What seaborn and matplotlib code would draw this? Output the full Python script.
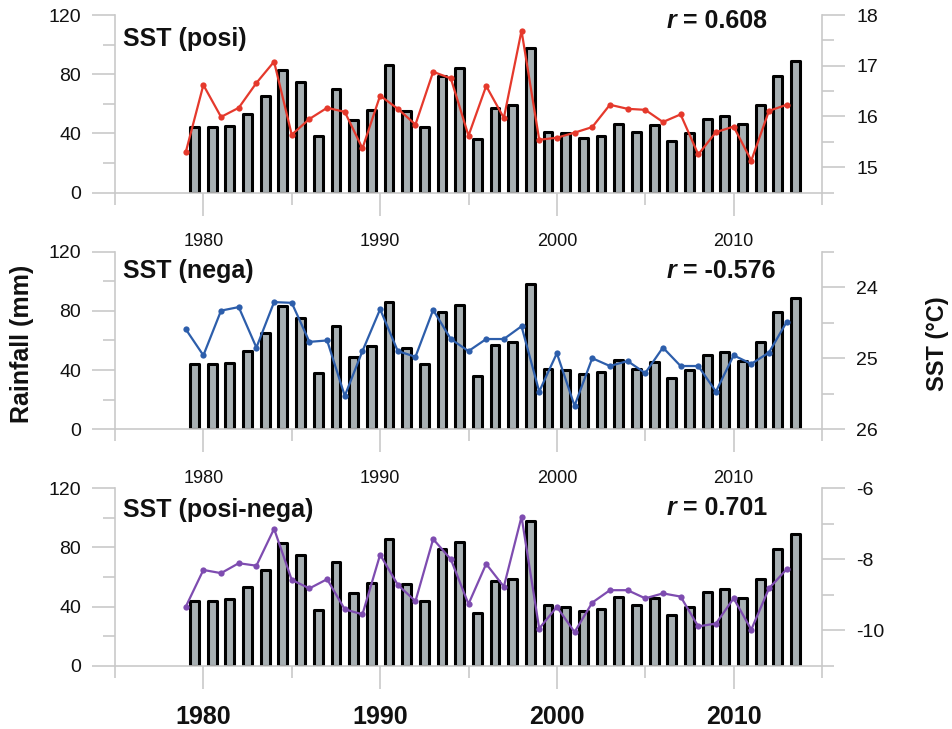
import matplotlib
matplotlib.use("Agg")
import matplotlib.pyplot as plt
from matplotlib.ticker import FixedLocator, NullFormatter
import seaborn as sns
import pandas as pd
import numpy as np

# ---------------- data ----------------
years = list(range(1979, 2014))
rainfall = [44, 44, 45, 53, 65, 83, 75, 38, 70, 49, 56, 86, 55, 44, 79, 84, 36, 57, 59, 98,
            41, 40, 37, 38.5, 46.5, 41, 45.5, 34.5, 40, 50, 52, 46, 59, 79, 89]
sst_posi = [15.29, 16.62, 15.99, 16.17, 16.66, 17.08, 15.64, 15.95, 16.17, 16.09, 15.37, 16.41,
            16.15, 15.84, 16.88, 16.75, 15.62, 16.60, 15.97, 17.69, 15.54, 15.58, 15.68, 15.79,
            16.23, 16.15, 16.13, 15.89, 16.04, 15.25, 15.69, 15.80, 15.13, 16.11, 16.23]
sst_nega = [24.59, 24.96, 24.33, 24.28, 24.85, 24.21, 24.22, 24.77, 24.75, 25.53, 24.90, 24.31,
            24.90, 24.98, 24.32, 24.73, 24.90, 24.73, 24.73, 24.55, 25.47, 24.93, 25.67, 25.00,
            25.11, 25.04, 25.21, 24.85, 25.11, 25.11, 25.47, 24.96, 25.08, 24.92, 24.49]
sst_diff = [-9.34, -8.30, -8.39, -8.11, -8.18, -7.14, -8.58, -8.82, -8.56, -9.41, -9.55, -7.87,
            -8.72, -9.18, -7.43, -8.00, -9.26, -8.13, -8.77, -6.80, -9.95, -9.34, -10.05, -9.22,
            -8.87, -8.87, -9.10, -8.96, -9.05, -9.89, -9.81, -9.10, -9.98, -8.82, -8.28]

titles = ["SST (posi)", "SST (nega)", "SST (posi-nega)"]
r_values = ["= 0.608", "= -0.576", "= 0.701"]
right_major = [[15, 16, 17, 18], [24, 25, 26], [-6, -8, -10]]
right_minor = [[14.5, 15.5, 16.5, 17.5], [23.5, 24.5, 25.5], [-7, -9, -11]]
right_lims = [(14.5, 18.0), (26.0, 23.5), (-11.0, -6.0)]
left_major = [0, 40, 80, 120]
left_minor = [20, 60, 100]
x_major = [1980, 1990, 2000, 2010]
x_minor = [1975, 1985, 1995, 2005, 2015]
line_colors = ["#e5392c", "#2d5eab", "#7e4cb0"]
sst_series = [sst_posi, sst_nega, sst_diff]

# ---------------- style ----------------
sns.set_theme(style="white")
plt.rcParams["font.family"] = ["Liberation Sans", "DejaVu Sans"]
GRAY = "#c9c9c9"

fig = plt.figure(figsize=(9.52, 7.29), dpi=100)
W, H = 952, 729
left_px, right_px = 115, 822
panel_tops = [15, 251.7, 488.3]
panel_h = 177.5

df = pd.DataFrame({"year": years, "rain": rainfall})
df["xbar"] = df["year"] + 0.5

for i in range(3):
    top = panel_tops[i]
    ax = fig.add_axes([left_px / W, 1 - (top + panel_h) / H, (right_px - left_px) / W, panel_h / H])
    sns.barplot(data=df, x="xbar", y="rain", native_scale=True, width=0.5,
                color="#a8b0b3", edgecolor="black", linewidth=2.2, saturation=1,
                ax=ax, zorder=2)
    for p in ax.patches:
        p.set_joinstyle("round")
    ax.set_xlim(1975, 2015)
    ax.set_ylim(0, 120)
    ax.set_xlabel("")
    ax.set_ylabel("")

    # left axis ticks
    ax.yaxis.set_major_locator(FixedLocator(left_major))
    ax.yaxis.set_minor_locator(FixedLocator(left_minor))
    ax.set_yticklabels([str(v) for v in left_major])
    ax.tick_params(axis="y", which="major", direction="out", length=16.5, width=1.2,
                   color=GRAY, labelsize=14, pad=8, labelcolor="#111111", left=True)
    ax.tick_params(axis="y", which="minor", direction="out", length=8.6, width=1.2,
                   color=GRAY, left=True)

    # x ticks
    ax.xaxis.set_major_locator(FixedLocator(x_major))
    ax.xaxis.set_minor_locator(FixedLocator(x_minor))
    ax.xaxis.set_minor_formatter(NullFormatter())
    ax.set_xticklabels([str(v) for v in x_major])
    if i < 2:
        ax.tick_params(axis="x", which="major", direction="out", length=16.5, width=1.2,
                       color=GRAY, labelsize=13, pad=13, labelcolor="#111111", bottom=True)
    else:
        ax.tick_params(axis="x", which="major", direction="out", length=16.5, width=1.2,
                       color=GRAY, labelsize=18, pad=12, labelcolor="#111111", bottom=True)
        for lbl in ax.get_xticklabels():
            lbl.set_fontweight("bold")
    ax.tick_params(axis="x", which="minor", direction="out", length=8.6, width=1.2,
                   color=GRAY, bottom=True)

    for s in ["top", "right"]:
        ax.spines[s].set_visible(False)
    for s in ["left", "bottom"]:
        ax.spines[s].set_color(GRAY)
        ax.spines[s].set_linewidth(1.2)
    ax.grid(False)

    # right axis with SST line
    ax2 = ax.twinx()
    sns.lineplot(x=years, y=sst_series[i], ax=ax2, color=line_colors[i], linewidth=1.6,
                 marker="o", markersize=4.5, markeredgewidth=0, zorder=5)
    ax2.set_ylim(*right_lims[i])
    ax2.yaxis.set_major_locator(FixedLocator(right_major[i]))
    ax2.yaxis.set_minor_locator(FixedLocator(right_minor[i]))
    ax2.set_yticklabels([str(v) for v in right_major[i]])
    ax2.tick_params(axis="y", which="major", direction="out", length=16.5, width=1.2,
                    color=GRAY, labelsize=14, pad=8, labelcolor="#111111", right=True)
    ax2.tick_params(axis="y", which="minor", direction="out", length=8.6, width=1.2,
                    color=GRAY, right=True)
    for s in ["top", "left", "bottom"]:
        ax2.spines[s].set_visible(False)
    ax2.spines["right"].set_color(GRAY)
    ax2.spines["right"].set_linewidth(1.2)
    ax2.set_ylabel("")
    ax2.grid(False)

    # titles and r values
    title_y = [0.865, 0.89, 0.876][i]
    ax.text(0.012, title_y, titles[i], transform=ax.transAxes, fontsize=18,
            fontweight="bold", ha="left", va="center", zorder=10, color="#111111")
    r_y = [0.966, 0.89, 0.887][i]
    t1 = ax.text(0.78, r_y, "r", transform=ax.transAxes, fontsize=18, fontweight="bold",
                 fontstyle="italic", ha="left", va="center", zorder=10, color="#111111")
    ax.annotate(" " + r_values[i], xy=(1, 0.5), xycoords=t1, fontsize=18,
                fontweight="bold", ha="left", va="center", zorder=10, color="#111111")

fig.text(22.5 / W, 1 - 344 / H, "Rainfall (mm)", rotation=90, fontsize=18,
         fontweight="bold", ha="center", va="center", color="#111111")
fig.text(937.5 / W, 1 - 344 / H, "SST (°C)", rotation=90, fontsize=17,
         fontweight="bold", ha="center", va="center", color="#111111")

fig.savefig("out.png", dpi=100)
